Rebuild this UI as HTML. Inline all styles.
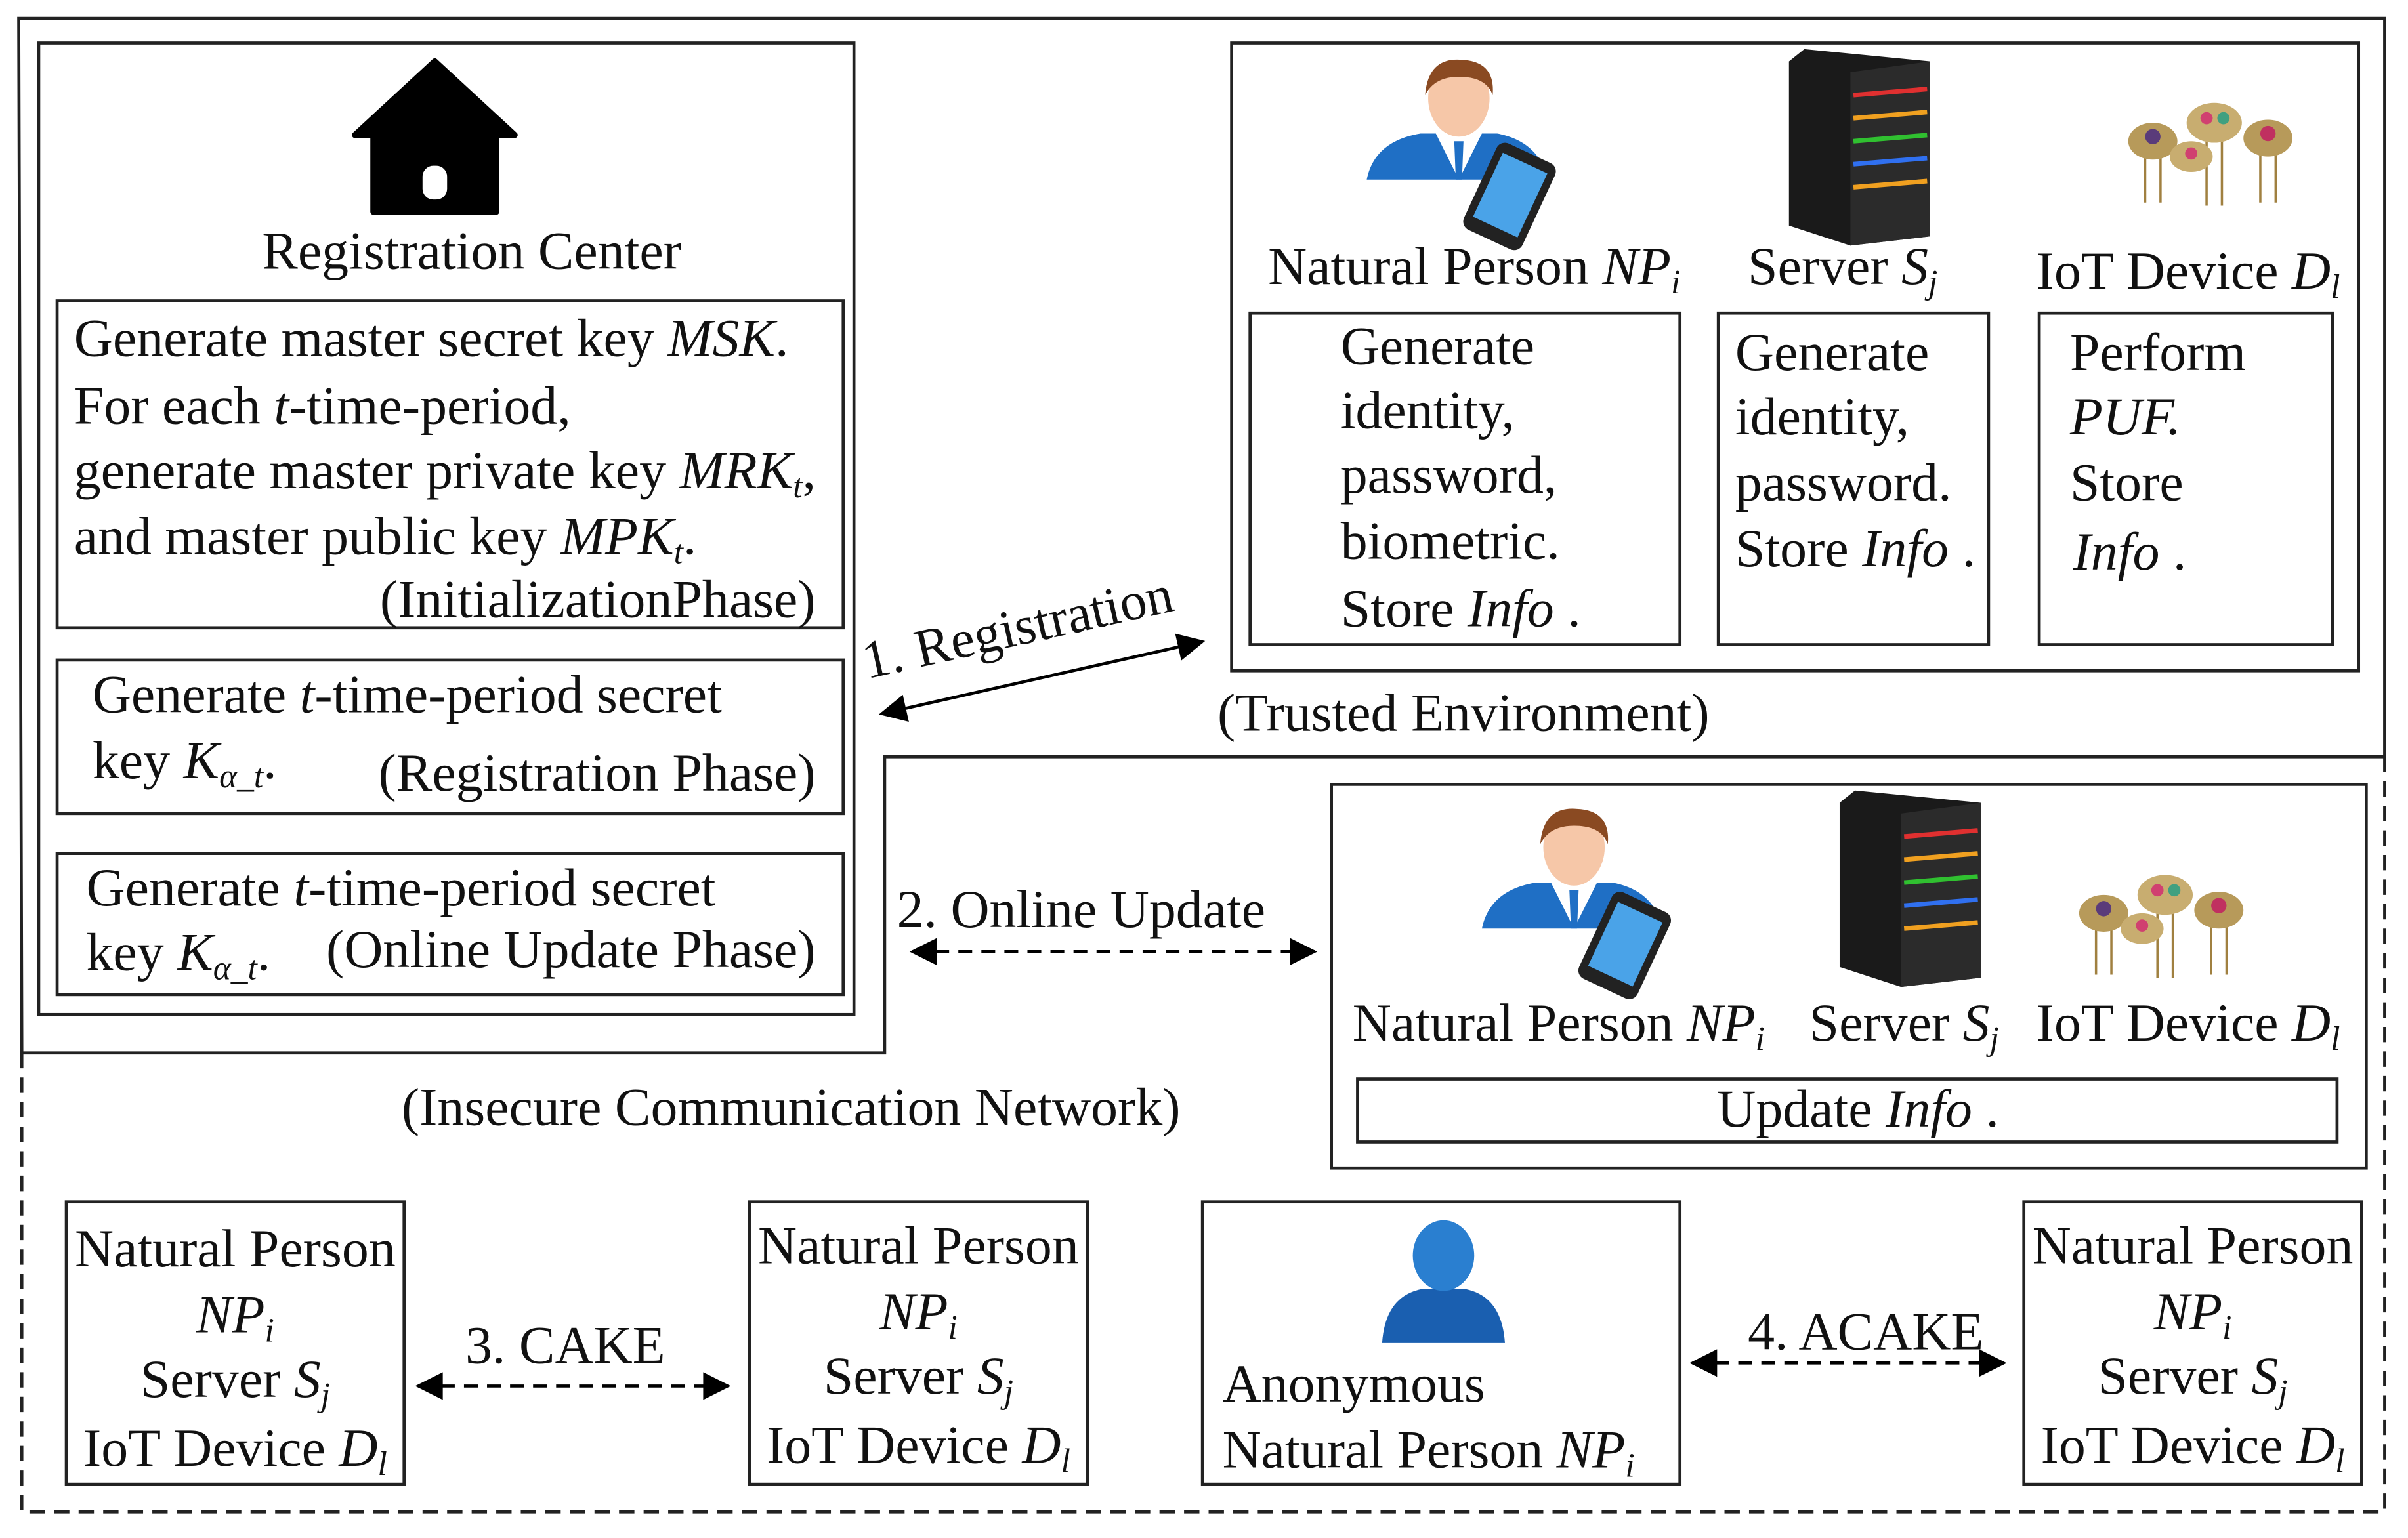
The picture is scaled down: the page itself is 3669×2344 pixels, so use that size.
<!DOCTYPE html>
<html><head><meta charset="utf-8"><style>
html,body{margin:0;padding:0;background:#fff;}
svg{display:block;}
text{font-family:"Liberation Serif",serif;font-size:35px;fill:#111;}
.i{font-style:italic;}
</style></head><body>
<svg width="3669" height="2344" viewBox="0 0 1568 1002" xmlns="http://www.w3.org/2000/svg">
<defs>
<marker id="ab" viewBox="0 0 10 10" refX="9" refY="5" markerWidth="26" markerHeight="18" orient="auto-start-reverse" markerUnits="userSpaceOnUse"><path d="M0,0 L10,5 L0,10 z" fill="#000"/></marker>
<g id="person">
 <path d="M0,75 Q5,50 35,45 L85,45 Q112,50 118,75 Z" fill="#1f6fc5"/>
 <path d="M45,45 L60,75 L75,45 Z" fill="#fff"/>
 <path d="M57,50 L63,50 L62,75 L58,75 Z" fill="#1f6fc5"/>
 <ellipse cx="60" cy="22" rx="20" ry="25" fill="#f6c7a8"/>
 <path d="M38,20 Q40,-5 62,-3 Q84,-2 82,20 Q78,8 60,8 Q44,8 38,20 Z" fill="#8a4a22"/>
 <rect x="72" y="55" width="42" height="62" rx="6" transform="rotate(25 93 86)" fill="#222"/>
 <rect x="77" y="62" width="32" height="46" transform="rotate(25 93 86)" fill="#4aa3e8"/>
</g>
<g id="server">
 <path d="M10,0 L92,8 L92,122 L40,128 L0,115 L0,8 Z" fill="#1a1a1a"/>
 <path d="M40,15 L92,8 L92,122 L40,128 Z" fill="#2b2b2b"/>
 <g stroke-width="3">
 <line x1="42" y1="30" x2="90" y2="26" stroke="#e03030"/><line x1="42" y1="45" x2="90" y2="41" stroke="#f0a020"/>
 <line x1="42" y1="60" x2="90" y2="56" stroke="#30c030"/><line x1="42" y1="75" x2="90" y2="71" stroke="#3070f0"/>
 <line x1="42" y1="90" x2="90" y2="86" stroke="#f0a020"/>
 </g>
</g>
<g id="iot">
 <g stroke="#a08040" stroke-width="1.5"><line x1="15" y1="35" x2="15" y2="70"/><line x1="25" y1="35" x2="25" y2="70"/><line x1="55" y1="30" x2="55" y2="72"/><line x1="65" y1="30" x2="65" y2="72"/><line x1="90" y1="35" x2="90" y2="70"/><line x1="100" y1="35" x2="100" y2="70"/></g>
 <ellipse cx="20" cy="30" rx="16" ry="12" fill="#b79a5a"/><circle cx="20" cy="27" r="5" fill="#5a3b7a"/>
 <ellipse cx="60" cy="18" rx="18" ry="13" fill="#c8ad70"/><circle cx="55" cy="15" r="4" fill="#d04070"/><circle cx="66" cy="15" r="4" fill="#40a080"/>
 <ellipse cx="95" cy="28" rx="16" ry="12" fill="#b79a5a"/><circle cx="95" cy="25" r="5" fill="#c03060"/>
 <ellipse cx="45" cy="40" rx="14" ry="10" fill="#c8ad70"/><circle cx="45" cy="38" r="4" fill="#d04070"/>
</g>
</defs>
<rect width="1568" height="1002" fill="#fff"/>
<path d="M12,12 L1553,12 L1553,493 L576,493 L576,686 L14,686 Z" fill="none" stroke="#222" stroke-width="2"/>
<path d="M14,686 L14,985 L1553,985 L1553,493" fill="none" stroke="#222" stroke-width="2" stroke-dasharray="10,6"/>
<rect x="25" y="28" width="531" height="633" fill="none" stroke="#222" stroke-width="2"/>
<path d="M283,40 L335,88 L323,88 L323,138 L243,138 L243,88 L231,88 Z" fill="#000" stroke="#000" stroke-width="4" stroke-linejoin="round"/>
<rect x="275" y="108" width="16" height="22" rx="7" fill="#fff"/>
<text x="307" y="175" text-anchor="middle">Registration Center</text>
<rect x="37" y="196" width="512" height="213" fill="none" stroke="#222" stroke-width="2"/>
<text x="48" y="232">Generate master secret key <tspan class="i">MSK</tspan>.</text>
<text x="48" y="276">For each <tspan class="i">t</tspan>-time-period,</text>
<text x="48" y="318">generate master private key <tspan class="i">MRK<tspan font-size="22" dy="6">t</tspan></tspan><tspan dy="-6">,</tspan></text>
<text x="48" y="361">and master public key <tspan class="i">MPK<tspan font-size="22" dy="6">t</tspan></tspan><tspan dy="-6">.</tspan></text>
<text x="531" y="402" text-anchor="end">(InitializationPhase)</text>
<rect x="37" y="430" width="512" height="100" fill="none" stroke="#222" stroke-width="2"/>
<text x="60" y="464">Generate <tspan class="i">t</tspan>-time-period secret</text>
<text x="60" y="507">key <tspan class="i">K<tspan font-size="22" dy="6">α_t</tspan></tspan><tspan dy="-6">.</tspan></text>
<text x="531" y="515" text-anchor="end">(Registration Phase)</text>
<rect x="37" y="556" width="512" height="92" fill="none" stroke="#222" stroke-width="2"/>
<text x="56" y="590">Generate <tspan class="i">t</tspan>-time-period secret</text>
<text x="56" y="632">key <tspan class="i">K<tspan font-size="22" dy="6">α_t</tspan></tspan><tspan dy="-6">.</tspan></text>
<text x="531" y="630" text-anchor="end">(Online Update Phase)</text>
<rect x="802" y="28" width="734" height="409" fill="none" stroke="#222" stroke-width="2"/>
<use href="#person" x="890" y="42"/>
<use href="#server" x="1165" y="32"/>
<use href="#iot" x="1382" y="62"/>
<text x="960" y="185" text-anchor="middle">Natural Person <tspan class="i">NP<tspan font-size="22" dy="6">i</tspan></tspan></text>
<text x="1200" y="185" text-anchor="middle">Server <tspan class="i">S<tspan font-size="22" dy="6">j</tspan></tspan></text>
<text x="1425" y="188" text-anchor="middle">IoT Device <tspan class="i">D<tspan font-size="22" dy="6">l</tspan></tspan></text>
<rect x="814" y="204" width="280" height="216" fill="none" stroke="#222" stroke-width="2"/>
<text x="873" y="237">Generate</text><text x="873" y="279">identity,</text><text x="873" y="321">password,</text><text x="873" y="364">biometric.</text><text x="873" y="408">Store <tspan class="i">Info</tspan> .</text>
<rect x="1119" y="204" width="176" height="216" fill="none" stroke="#222" stroke-width="2"/>
<text x="1130" y="241">Generate</text><text x="1130" y="283">identity,</text><text x="1130" y="326">password.</text><text x="1130" y="369">Store <tspan class="i">Info</tspan> .</text>
<rect x="1328" y="204" width="191" height="216" fill="none" stroke="#222" stroke-width="2"/>
<text x="1348" y="241">Perform</text><text x="1348" y="283" class="i">PUF.</text><text x="1348" y="326">Store</text><text x="1350" y="371"><tspan class="i">Info</tspan> .</text>
<text x="953" y="476" text-anchor="middle">(Trusted Environment)</text>
<line x1="574" y1="465" x2="783" y2="418" stroke="#000" stroke-width="2" marker-start="url(#ab)" marker-end="url(#ab)"/>
<text x="665" y="420" text-anchor="middle" transform="rotate(-12.5 665 420)">1. Registration</text>
<text x="704" y="604" text-anchor="middle">2. Online Update</text>
<line x1="594" y1="620" x2="856" y2="620" stroke="#000" stroke-width="2" stroke-dasharray="9,6" marker-start="url(#ab)" marker-end="url(#ab)"/>
<rect x="867" y="511" width="674" height="250" fill="none" stroke="#222" stroke-width="2"/>
<use href="#person" x="965" y="530"/>
<use href="#server" x="1198" y="515"/>
<use href="#iot" x="1350" y="565"/>
<text x="1015" y="678" text-anchor="middle">Natural Person <tspan class="i">NP<tspan font-size="22" dy="6">i</tspan></tspan></text>
<text x="1240" y="678" text-anchor="middle">Server <tspan class="i">S<tspan font-size="22" dy="6">j</tspan></tspan></text>
<text x="1425" y="678" text-anchor="middle">IoT Device <tspan class="i">D<tspan font-size="22" dy="6">l</tspan></tspan></text>
<rect x="884" y="703" width="638" height="41" fill="none" stroke="#222" stroke-width="2"/>
<text x="1210" y="734" text-anchor="middle">Update <tspan class="i">Info</tspan> .</text>
<text x="515" y="733" text-anchor="middle">(Insecure Communication Network)</text>
<g text-anchor="middle">
<rect x="43" y="783" width="220" height="184" fill="none" stroke="#222" stroke-width="2"/>
<text x="153" y="825">Natural Person</text><text x="153" y="868" class="i">NP<tspan font-size="22" dy="6">i</tspan></text><text x="153" y="910">Server <tspan class="i">S<tspan font-size="22" dy="6">j</tspan></tspan></text><text x="153" y="955">IoT Device <tspan class="i">D<tspan font-size="22" dy="6">l</tspan></tspan></text>
<rect x="488" y="783" width="220" height="184" fill="none" stroke="#222" stroke-width="2"/>
<text x="598" y="823">Natural Person</text><text x="598" y="866" class="i">NP<tspan font-size="22" dy="6">i</tspan></text><text x="598" y="908">Server <tspan class="i">S<tspan font-size="22" dy="6">j</tspan></tspan></text><text x="598" y="953">IoT Device <tspan class="i">D<tspan font-size="22" dy="6">l</tspan></tspan></text>
<rect x="1318" y="783" width="220" height="184" fill="none" stroke="#222" stroke-width="2"/>
<text x="1428" y="823">Natural Person</text><text x="1428" y="866" class="i">NP<tspan font-size="22" dy="6">i</tspan></text><text x="1428" y="908">Server <tspan class="i">S<tspan font-size="22" dy="6">j</tspan></tspan></text><text x="1428" y="953">IoT Device <tspan class="i">D<tspan font-size="22" dy="6">l</tspan></tspan></text>
<text x="368" y="888">3. CAKE</text>
<text x="1215" y="879">4. ACAKE</text>
</g>
<line x1="272" y1="903" x2="474" y2="903" stroke="#000" stroke-width="2" stroke-dasharray="9,6" marker-start="url(#ab)" marker-end="url(#ab)"/>
<line x1="1102" y1="888" x2="1305" y2="888" stroke="#000" stroke-width="2" stroke-dasharray="9,6" marker-start="url(#ab)" marker-end="url(#ab)"/>
<rect x="783" y="783" width="311" height="184" fill="none" stroke="#222" stroke-width="2"/>
<path d="M900,875 Q902,845 925,840 L955,840 Q978,845 980,875 Z" fill="#1a5fb0"/>
<ellipse cx="940" cy="818" rx="20" ry="23" fill="#2a7fd0"/>
<text x="796" y="913">Anonymous</text>
<text x="796" y="956">Natural Person <tspan class="i">NP<tspan font-size="22" dy="6">i</tspan></tspan></text>
</svg>
</body></html>
